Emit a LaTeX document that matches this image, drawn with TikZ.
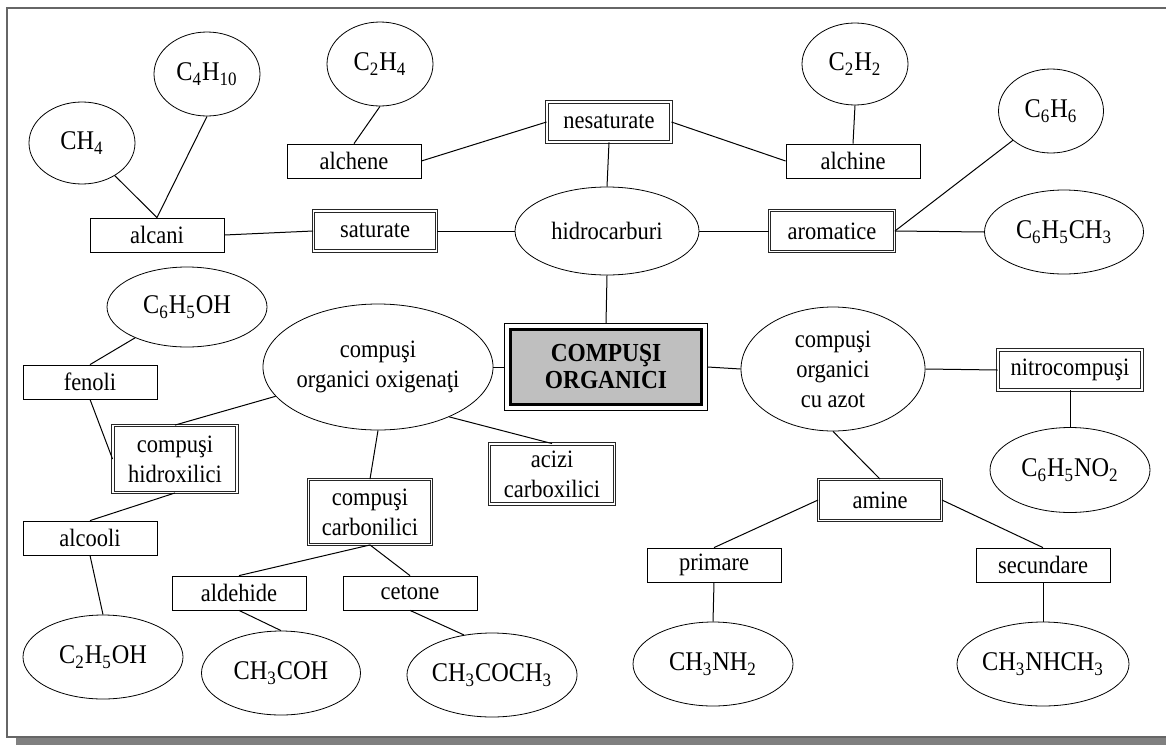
\documentclass[tikz,border=0pt]{standalone}
\usepackage{fontspec}
\setmainfont{Liberation Serif}[FakeStretch=0.9]
\usetikzlibrary{shapes.geometric}

\begin{document}
\begin{tikzpicture}[x=0.5pt, y=-0.5pt,
    lbl/.style={font=\fontsize{12.5}{15}\selectfont, align=center},
    box/.style={draw, rectangle, lbl, inner sep=0pt, minimum width=67pt, minimum height=17pt},
    dbox/.style={draw=black!85, double, double distance=0.9pt, line width=0.45pt, rectangle, lbl, inner sep=0pt},
    blob/.style={draw, ellipse, lbl, inner sep=0pt, minimum width=80pt, minimum height=42pt},
    chem/.style={blob, font=\fontsize{13.5}{16}\selectfont},
    core/.style={draw, line width=1.5pt, fill=black!25, rectangle, align=center, inner sep=0pt,
        font=\fontsize{13}{13.5}\selectfont\bfseries, outer sep=2.85pt},
    link/.style={line width=0.5pt}]

    \useasboundingbox (0,0) rectangle (1166,744);
    \clip (0,0) rectangle (1166,744);

    % Frame
    \fill[black!50] (16,738) rectangle (1180,746);
    \draw[black!60, line width=1pt] (7,8) rectangle (1180,737);

    % Nodes
    \node[core, minimum width=95.8pt, minimum height=37.8pt] (org) at (606,367) {COMPUŞI\\ORGANICI};
    \draw[link] (org.north west) rectangle (org.south east);

    \node[blob, minimum width=92pt, minimum height=44pt] (hidro) at (607,231) {hidrocarburi};
    \node[blob, minimum width=95pt, minimum height=63pt] (oxig) at (378,367) {compuşi\\organici oxigenaţi};
    \node[blob, minimum width=92pt, minimum height=62pt] (azot) at (833,369) {compuşi\\organici\\cu azot};

    \node[dbox, minimum width=62pt, minimum height=20pt] (nesat) at (609,122) {nesaturate};
    \node[dbox, minimum width=61.5pt, minimum height=20pt] (sat) at (375,231) {saturate};
    \node[dbox, minimum width=62.5pt, minimum height=20.5pt] (arom) at (832,231) {aromatice};
    \node[dbox, minimum width=62pt, minimum height=33.5pt] (hidrox) at (175,459) {compuşi\\hidroxilici};
    \node[dbox, minimum width=61.5pt, minimum height=32.5pt] (carbon) at (370,512) {compuşi\\carbonilici};
    \node[dbox, minimum width=62.5pt, minimum height=30pt] (acizi) at (552,474) {acizi\\carboxilici};
    \node[dbox, minimum width=72pt, minimum height=20pt] (nitro) at (1070,370) {nitrocompuşi};
    \node[dbox, minimum width=61.5pt, minimum height=20.5pt] (amine) at (880,500) {amine};

    \node[box] (alcani) at (157,235) {alcani};
    \node[box] (alchene) at (354,161) {alchene};
    \node[box] (alchine) at (853,161) {alchine};
    \node[box] (fenoli) at (90,382) {fenoli};
    \node[box] (alcooli) at (90,538) {alcooli};
    \node[box] (aldehide) at (239,593) {aldehide};
    \node[box] (cetone) at (410,593) {cetone};
    \node[box] (primare) at (714,565) {primare};
    \node[box] (secundare) at (1043,565) {secundare};

    \node[chem, minimum width=53pt, minimum height=41pt] (ch4) at (82,143) {CH\textsubscript{4}};
    \node[chem, minimum width=53pt, minimum height=42pt] (c4h10) at (207,74) {C\textsubscript{4}H\textsubscript{10}};
    \node[chem, minimum width=53pt, minimum height=42pt] (c2h4) at (380,64) {C\textsubscript{2}H\textsubscript{4}};
    \node[chem, minimum width=53pt, minimum height=41pt] (c2h2) at (855,64) {C\textsubscript{2}H\textsubscript{2}};
    \node[chem, minimum width=52.5pt, minimum height=42pt] (c6h6) at (1051,111) {C\textsubscript{6}H\textsubscript{6}};
    \node[chem, minimum width=79.5pt] (toluen) at (1064,232) {C\textsubscript{6}H\textsubscript{5}CH\textsubscript{3}};
    \node[chem, minimum height=40pt] (fenol) at (187,307) {C\textsubscript{6}H\textsubscript{5}OH};
    \node[chem, minimum height=42.5pt] (nitrob) at (1070,470) {C\textsubscript{6}H\textsubscript{5}NO\textsubscript{2}};
    \node[chem] (etanol) at (103,657) {C\textsubscript{2}H\textsubscript{5}OH};
    \node[chem, minimum width=79.5pt] (etanal) at (281,673) {CH\textsubscript{3}COH};
    \node[chem, minimum width=80.5pt] (aceton) at (492,675) {CH\textsubscript{3}COCH\textsubscript{3}};
    \node[chem] (mam) at (713,664) {CH\textsubscript{3}NH\textsubscript{2}};
    \node[chem] (dmam) at (1043,664) {CH\textsubscript{3}NHCH\textsubscript{3}};

    % Lines
    \draw[link] (ch4) -- (alcani.north);
    \draw[link] (c4h10.south) -- (alcani.north);
    \draw[link] (alcani.east) -- (sat.west);
    \draw[link] (sat.east) -- (hidro);
    \draw[link] (alchene.north) -- (c2h4.south);
    \draw[link] (alchene.east) -- (nesat.west);
    \draw[link] (nesat.east) -- (alchine.west);
    \draw[link] (alchine.north) -- (c2h2.south);
    \draw[link] (nesat.south) -- (hidro.north);
    \draw[link] (hidro) -- (arom.west);
    \draw[link] (arom.east) -- (c6h6);
    \draw[link] (arom.east) -- (toluen.west);
    \draw[link] (hidro.south) -- (org.north);
    \draw[link] (org.west) -- (oxig.east);
    \draw[link] (org.east) -- (azot.west);
    \draw[link] (oxig) -- (hidrox.north);
    \draw[link] (fenoli.north) -- (fenol);
    \draw[link] (fenoli.south) -- (hidrox.west);
    \draw[link] (hidrox.south) -- (alcooli.north);
    \draw[link] (alcooli.south) -- (etanol.north);
    \draw[link] (oxig.south) -- (carbon.north);
    \draw[link] (oxig.-35) -- (acizi.north);
    \draw[link] (carbon.south) -- (aldehide.north);
    \draw[link] (carbon.south) -- (cetone.north);
    \draw[link] (aldehide.south) -- (etanal.north);
    \draw[link] (cetone.south) -- (aceton.125);
    \draw[link] (azot.east) -- (nitro.west);
    \draw[link] (nitro.south) -- (nitrob.north);
    \draw[link] (azot.south) -- (amine.north);
    \draw[link] (amine.west) -- (primare.north);
    \draw[link] (amine.east) -- (secundare.north);
    \draw[link] (primare.south) -- (mam.north);
    \draw[link] (secundare.south) -- (dmam.north);

\end{tikzpicture}
\end{document}
